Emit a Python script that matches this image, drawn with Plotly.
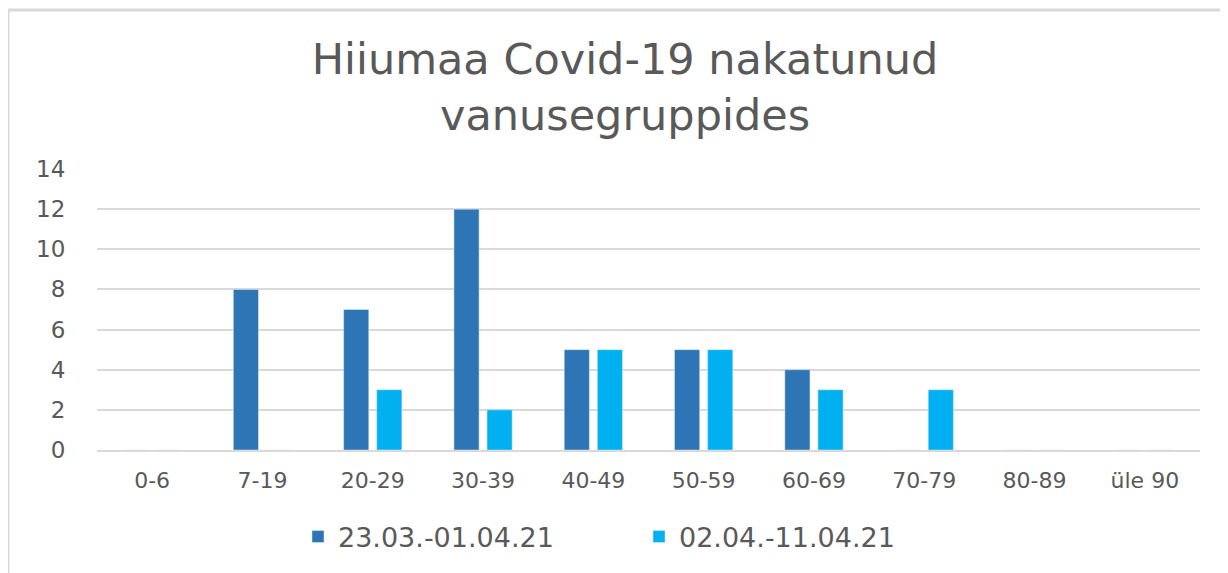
import plotly.graph_objects as go

categories = ["0-6", "7-19", "20-29", "30-39", "40-49", "50-59", "60-69", "70-79", "80-89", "üle 90"]
series1_name = "23.03.-01.04.21"
series1 = [0, 8, 7, 12, 5, 5, 4, 0, 0, 0]
series2_name = "02.04.-11.04.21"
series2 = [0, 0, 3, 2, 5, 5, 3, 3, 0, 0]
y_ticks = [0, 2, 4, 6, 8, 10, 12, 14]

# page body adds an 8px offset; work in reference pixel coordinates
OFF = 8
W, H = 1228 - OFF, 573 - OFF
L, R, T, B = 97 - OFF, 28, 169 - OFF, 123
pw, ph = W - L - R, H - T - B

def px_x(x):
    return (x - OFF - L) / pw

def px_y(y):
    return (H - B - (y - OFF)) / ph

txt = "#595959"
font = "DejaVu Sans"

fig = go.Figure()
fig.add_trace(go.Bar(x=categories, y=series1, name=series1_name, marker_color="#2E75B6"))
fig.add_trace(go.Bar(x=categories, y=series2, name=series2_name, marker_color="#00B0F0"))

fig.update_layout(
    width=W, height=H,
    margin=dict(l=L, r=R, t=T, b=B),
    paper_bgcolor="white", plot_bgcolor="white",
    barmode="group", bargap=0.4, bargroupgap=0.24,
    title=dict(
        text="Hiiumaa Covid-19 nakatunud<br>vanusegruppides",
        x=px_x(625), xref="paper", xanchor="center",
        y=1 - 66 / H, yref="container", yanchor="middle",
        font=dict(family=font, size=43, color=txt),
    ),
    font=dict(family=font, color=txt),
    legend=dict(
        orientation="h", x=px_x(298), xanchor="left",
        y=px_y(537), yanchor="middle",
        font=dict(family=font, size=27, color=txt),
        itemwidth=30, entrywidth=296, entrywidthmode="pixels", traceorder="normal",
    ),
    showlegend=True,
    shapes=[
        dict(type="line", xref="paper", yref="paper", x0=px_x(8), x1=px_x(1228), y0=px_y(10), y1=px_y(10),
             line=dict(color="#D9D9D9", width=3)),
        dict(type="line", xref="paper", yref="paper", x0=px_x(8), x1=px_x(8), y0=px_y(10), y1=px_y(573),
             line=dict(color="#D9D9D9", width=3)),
    ],
)
fig.update_xaxes(
    showgrid=False, showline=True, linecolor="#D9D9D9", linewidth=2,
    ticks="outside", ticklen=10, tickcolor="rgba(0,0,0,0)",
    tickfont=dict(family=font, size=22, color=txt),
)
fig.update_yaxes(
    range=[0, 14], tickvals=y_ticks, showgrid=True, gridcolor="#D9D9D9", gridwidth=2,
    zeroline=False, showline=False,
    ticks="outside", ticklen=26, tickcolor="rgba(0,0,0,0)",
    tickfont=dict(family=font, size=23, color=txt),
)
fig.write_html("out.html")
